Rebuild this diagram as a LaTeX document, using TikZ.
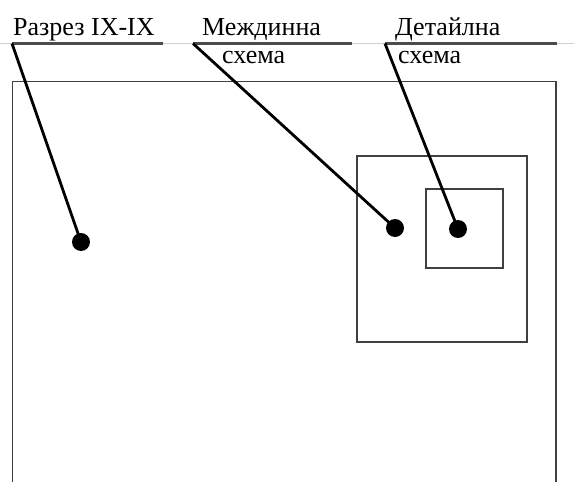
\documentclass[tikz,border=0pt]{standalone}
\usepackage{fontspec}
\setmainfont{Liberation Serif}
\begin{document}
\begin{tikzpicture}[x=1pt,y=-1pt,
  frame/.style={draw=black!75,line width=1.8pt},
  leader/.style={draw=black,line width=2.8pt},
  shelf/.style={draw=black!70,line width=2.2pt},
  dot/.style={circle,fill=black,inner sep=0pt,minimum size=18pt},
  lbl/.style={anchor=base west,inner sep=0pt,font=\fontsize{26}{30}\selectfont}]
\useasboundingbox (0,0) rectangle (574,482);
% faint guide line under the captions
\draw[black!18,line width=1.4pt] (0,43.5) -- (574,43.5);
% outer section outline, open at the bottom
\draw[frame] (12.5,482) -- (12.5,81.5) -- (556,81.5) -- (556,482);
% intermediate and detail frames
\draw[frame] (357,156) rectangle (527,342);
\draw[frame] (426,189) rectangle (503,268);
% marker dots
\node[dot] (d1) at (81,242) {};
\node[dot] (d2) at (395,228) {};
\node[dot] (d3) at (458,229) {};
% captions
\node[lbl] (t1) at (13,35) {Разрез IX-IX};
\node[lbl] (t2) at (202,35) {Междинна};
\node[lbl] (t2b) at (222,63) {схема};
\node[lbl] (t3) at (395,35) {Детайлна};
\node[lbl] (t3b) at (398,63) {схема};
% caption shelves
\coordinate (s1) at (12,43.5);
\coordinate (e1) at (163,43.5);
\coordinate (s2) at (193,43.5);
\coordinate (e2) at (352,43.5);
\coordinate (s3) at (385,43.5);
\coordinate (e3) at (557,43.5);
\draw[shelf] (s1) -- (e1);
\draw[shelf] (s2) -- (e2);
\draw[shelf] (s3) -- (e3);
% leaders
\draw[leader] (s1) -- (d1.center);
\draw[leader] (s2) -- (d2.center);
\draw[leader] (s3) -- (d3.center);
\end{tikzpicture}
\end{document}
